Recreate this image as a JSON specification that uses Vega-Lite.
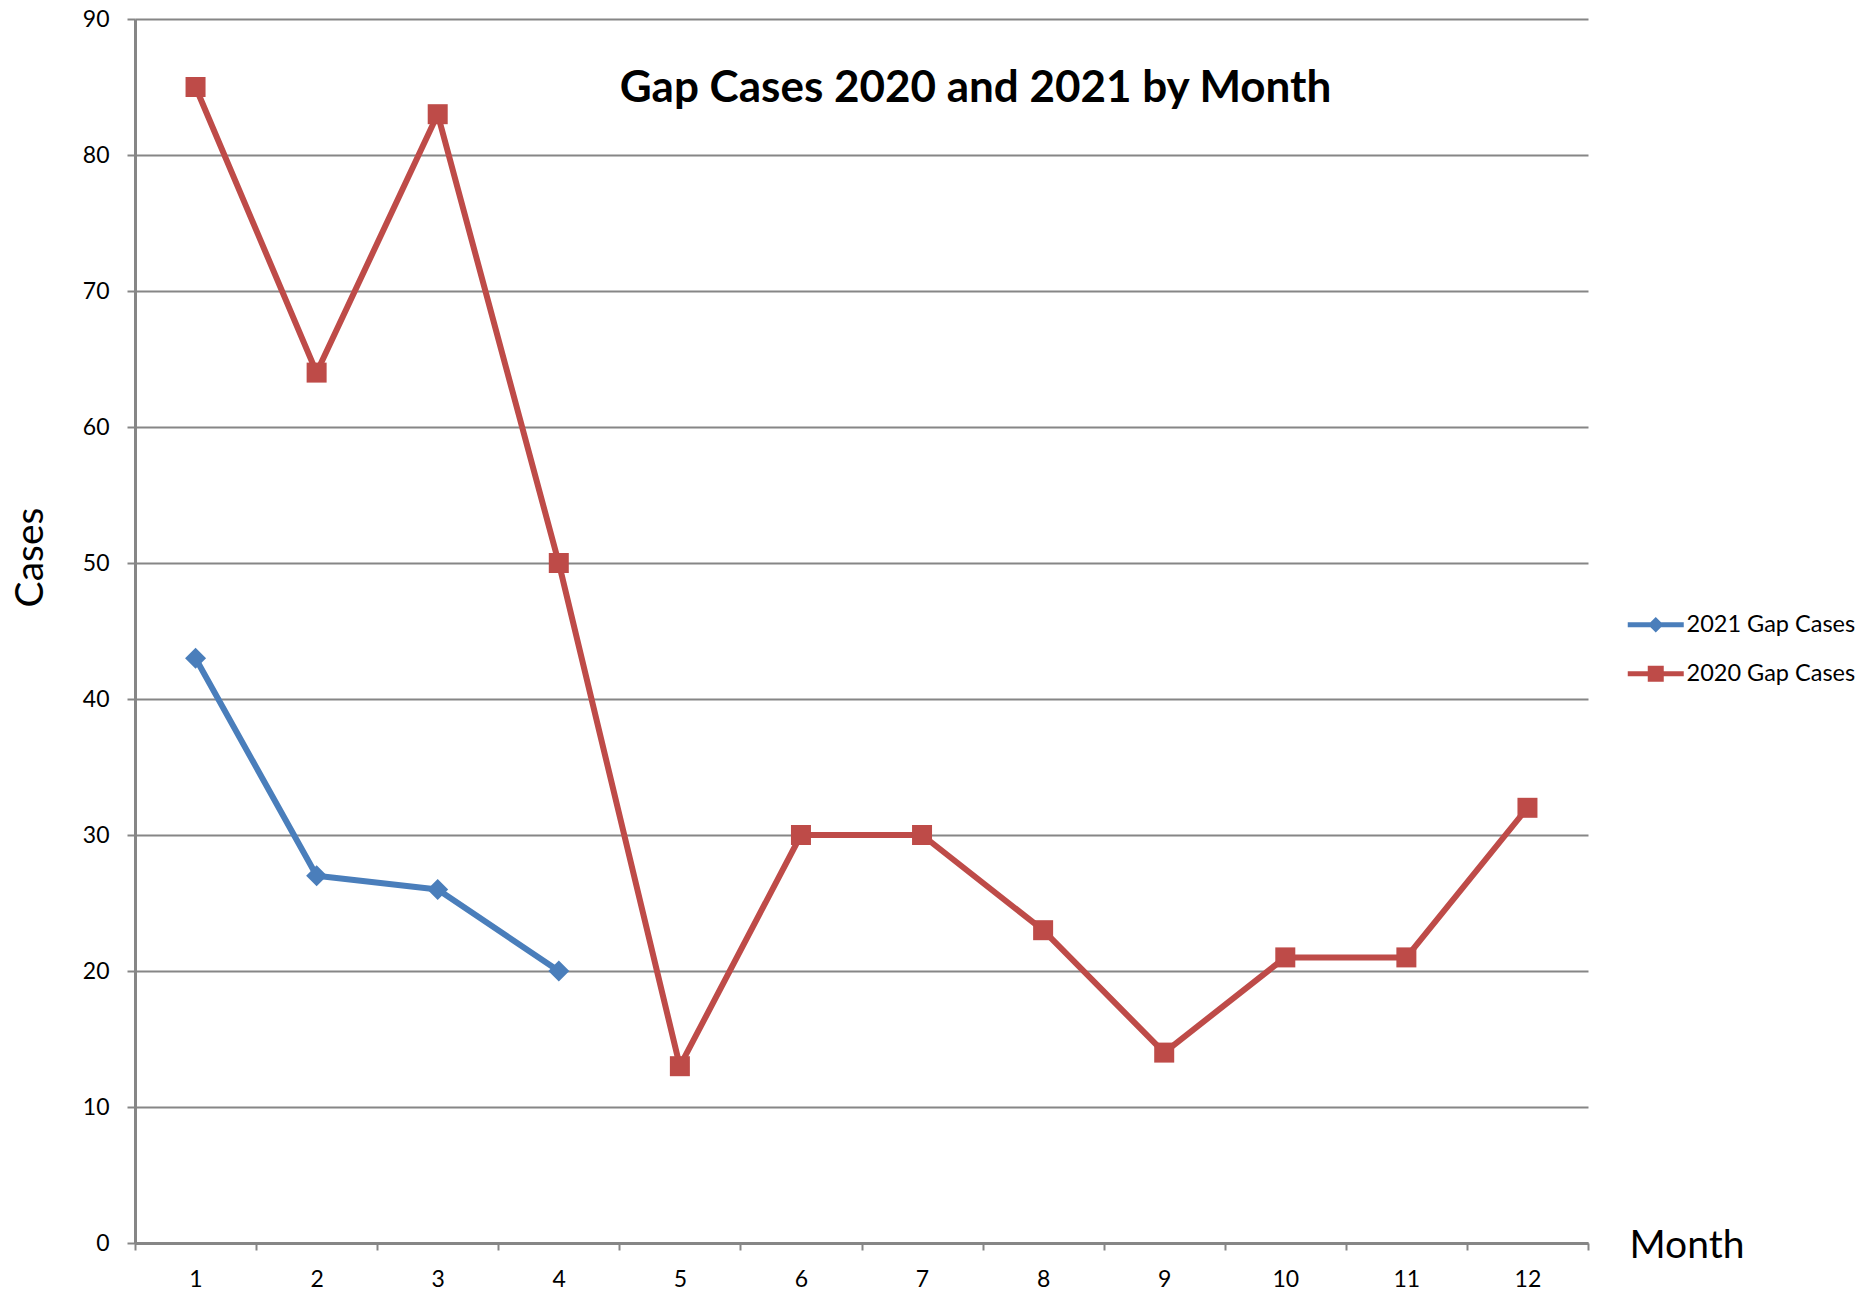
{
  "$schema": "https://vega.github.io/schema/vega-lite/v6.json",
  "width": 1453,
  "height": 1224,
  "autosize": {"type": "none"},
  "padding": {"left": 135, "top": 19, "right": 287, "bottom": 50},
  "background": "white",
  "config": {
    "font": "Lato",
    "view": {"stroke": null}
  },
  "title": {
    "text": "Gap Cases 2020 and 2021 by Month",
    "font": "Lato",
    "fontWeight": "bold",
    "fontSize": 44,
    "color": "black",
    "anchor": "middle",
    "frame": "group",
    "baseline": "alphabetic",
    "dx": 114,
    "dy": 142
  },
  "data": {
    "values": [
      {"Month": 1, "Series": "2021 Gap Cases", "Cases": 43},
      {"Month": 2, "Series": "2021 Gap Cases", "Cases": 27},
      {"Month": 3, "Series": "2021 Gap Cases", "Cases": 26},
      {"Month": 4, "Series": "2021 Gap Cases", "Cases": 20},
      {"Month": 1, "Series": "2020 Gap Cases", "Cases": 85},
      {"Month": 2, "Series": "2020 Gap Cases", "Cases": 64},
      {"Month": 3, "Series": "2020 Gap Cases", "Cases": 83},
      {"Month": 4, "Series": "2020 Gap Cases", "Cases": 50},
      {"Month": 5, "Series": "2020 Gap Cases", "Cases": 13},
      {"Month": 6, "Series": "2020 Gap Cases", "Cases": 30},
      {"Month": 7, "Series": "2020 Gap Cases", "Cases": 30},
      {"Month": 8, "Series": "2020 Gap Cases", "Cases": 23},
      {"Month": 9, "Series": "2020 Gap Cases", "Cases": 14},
      {"Month": 10, "Series": "2020 Gap Cases", "Cases": 21},
      {"Month": 11, "Series": "2020 Gap Cases", "Cases": 21},
      {"Month": 12, "Series": "2020 Gap Cases", "Cases": 32}
    ]
  },
  "encoding": {
    "x": {
      "field": "Month",
      "type": "ordinal",
      "bandPosition": 0.5,
      "scale": {"type": "band", "paddingInner": 0, "paddingOuter": 0, "domain": [1,2,3,4,5,6,7,8,9,10,11,12]},
      "axis": {
        "title": "Month",
        "titleFont": "Lato",
        "titleFontWeight": "normal",
        "titleFontSize": 39,
        "titleColor": "black",
        "titleX": 1494,
        "titleY": 14,
        "titleAlign": "left",
        "titleBaseline": "alphabetic",
        "labelAngle": 0,
        "labelFont": "Lato",
        "labelFontSize": 23,
        "labelColor": "black",
        "labelPadding": 18,
        "tickBand": "extent",
        "tickSize": 7,
        "tickColor": "#868686",
        "tickWidth": 2,
        "domainColor": "#868686",
        "domainWidth": 3,
        "grid": false
      }
    },
    "y": {
      "field": "Cases",
      "type": "quantitative",
      "scale": {"domain": [0, 90], "nice": false},
      "axis": {
        "title": "Cases",
        "titleFont": "Lato",
        "titleFontWeight": "normal",
        "titleFontSize": 39,
        "titleColor": "black",
        "titleX": -93,
        "titleY": 538,
        "titleAngle": 270,
        "titleAlign": "center",
        "titleBaseline": "alphabetic",
        "values": [0,10,20,30,40,50,60,70,80,90],
        "labelFont": "Lato",
        "labelFontSize": 23,
        "labelColor": "black",
        "labelPadding": 18,
        "tickSize": 8,
        "tickColor": "#868686",
        "tickWidth": 2,
        "domainColor": "#868686",
        "domainWidth": 3,
        "grid": true,
        "gridColor": "#868686",
        "gridWidth": 2
      }
    },
    "color": {
      "field": "Series",
      "type": "nominal",
      "scale": {"domain": ["2021 Gap Cases", "2020 Gap Cases"], "range": ["#4A7EBB", "#BE4B48"]},
      "legend": {
        "title": null,
        "orient": "none",
        "legendX": 1509,
        "legendY": 594,
        "padding": 0,
        "symbolSize": 400,
        "labelFont": "Lato",
        "labelFontSize": 23.5,
        "labelColor": "black",
        "labelOffset": 19,
        "labelLimit": 400,
        "rowPadding": 24,
        "encode": {
          "symbols": {
            "update": {
              "shape": {"signal": "datum.value === '2021 Gap Cases' ? 'M-2.8,-0.26H2.8V0.26H-2.8Z M0,-0.78L0.78,0L0,0.78L-0.78,0Z' : 'M-2.8,-0.26H2.8V0.26H-2.8Z M-0.8,-0.8H0.8V0.8H-0.8Z'"},
              "fill": {"scale": "color", "field": "value"},
              "stroke": {"value": "transparent"},
              "strokeWidth": {"value": 0},
              "opacity": {"value": 1}
            }
          }
        }
      }
    }
  },
  "layer": [
    {
      "mark": {"type": "line", "strokeWidth": 6, "strokeJoin": "round"}
    },
    {
      "transform": [{"filter": "datum.Series === '2021 Gap Cases'"}],
      "mark": {"type": "point", "filled": true, "size": 400, "opacity": 1, "shape": "M0,-1.05L1.05,0L0,1.05L-1.05,0Z"}
    },
    {
      "transform": [{"filter": "datum.Series === '2020 Gap Cases'"}],
      "mark": {"type": "point", "filled": true, "size": 400, "opacity": 1, "shape": "square"}
    }
  ]
}
